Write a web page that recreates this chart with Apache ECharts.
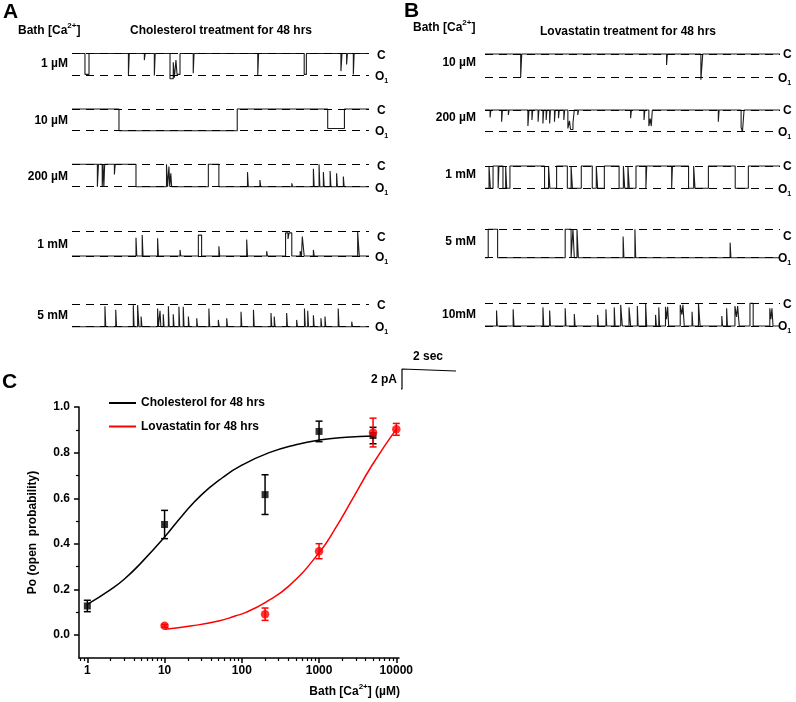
<!DOCTYPE html>
<html><head><meta charset="utf-8">
<script src="https://cdn.jsdelivr.net/npm/echarts@6/dist/echarts.min.js"></script>
<style>html,body{margin:0;padding:0;background:#fff}#c{width:796px;height:702px}</style>
</head><body><div id="c"></div>
<script>
// ================= DATA =================
// Single-channel traces: step points [time (s), level], level 1 = closed (C), 0 = open (O1)
const traceDuration = 11;
const concLabelsA = ['1 µM', '10 µM', '200 µM', '1 mM', '5 mM'];
const concLabelsB = ['10 µM', '200 µM', '1 mM', '5 mM', '10mM'];

const stepsA1 = [[0,1],[0.48,0.05],[0.63,1],[2.09,0],[2.12,1],[2.68,0.7],[2.71,1],[3.05,0],[3.08,1],
  [3.63,-0.15],[3.75,0.6],[3.79,-0.1],[3.85,0.7],[3.89,0.05],[4.0,1],[4.49,0.1],[4.52,1],
  [6.88,0],[6.91,1],[8.6,0.05],[8.68,1],[9.96,0.2],[10.0,1],[10.17,0.5],[10.2,1],[10.42,0.05],[10.45,1]];
const stepsA2 = [[0,1],[1.74,0],[6.12,1],[9.47,0.1],[10.09,1]];
const stepsA3 = [[0,1],[0.94,0],[0.98,1],[1.12,0],[1.15,1],[1.18,0],[1.21,1],[1.57,0.55],[1.6,1],[2.37,0],
  [3.5,1],[3.54,0],[3.59,0.9],[3.62,0],[3.66,0.6],[3.69,0],[5.05,1],[5.44,0],
  [6.5,0.65],[6.53,0],[6.96,0.3],[6.99,0],[8.14,0.15],[8.17,0],[8.94,0.8],[8.97,0],[9.15,1],[9.18,0],
  [9.31,0.65],[9.34,0],[9.56,0.7],[9.59,0],[9.8,0.6],[9.83,0],[10.05,0.45],[10.08,0]];
const stepsA4 = [[0,0],[2.37,0.75],[2.4,0],[2.6,0.86],[2.63,0],[3.17,0.73],[3.2,0],[4.0,0.25],[4.03,0],
  [4.68,0.86],[4.8,0],[5.44,0.4],[5.47,0],[6.47,0.68],[6.5,0],[7.21,0.2],[7.24,0],
  [7.91,0.95],[8.0,0.7],[8.04,0.95],[8.14,0],[8.45,0.2],[8.5,0],[8.53,0.8],[8.6,0],[8.94,0.25],[8.97,0],[10.58,1],[10.64,0]];
const stepsA5 = [[0,0],[1.22,0.9],[1.25,0],[1.62,0.75],[1.65,0],[2.27,0.95],[2.3,0],[2.43,0.95],[2.48,0],
  [2.56,0.45],[2.59,0],[3.17,0.8],[3.2,0],[3.26,0.7],[3.29,0],[3.38,0.55],[3.41,0],[3.57,0.9],[3.6,0],
  [3.75,0.55],[3.78,0],[3.96,0.88],[3.99,0],[4.12,0.88],[4.15,0],[4.31,0.45],[4.34,0],[4.62,0.37],[4.65,0],
  [5.07,0.8],[5.1,0],[5.42,0.3],[5.45,0],[5.73,0.37],[5.76,0],[6.26,0.66],[6.29,0],[6.72,0.75],[6.75,0],
  [7.37,0.6],[7.4,0],[7.49,0.45],[7.52,0],[7.95,0.6],[7.98,0],[8.32,0.3],[8.35,0],[8.61,0.8],[8.64,0],
  [8.73,0.7],[8.76,0],[8.94,0.5],[8.97,0],[9.22,0.37],[9.25,0],[9.37,0.45],[9.4,0],[9.86,0.8],[9.89,0],
  [10.36,0.22],[10.39,0]];

const stepsB1 = [[0,1],[1.33,0],[1.37,1],[6.77,0.53],[6.8,1],[8.05,-0.1],[8.12,1]];
const stepsB2 = [[0,1],[0.19,0.66],[0.22,1],[0.62,0.46],[0.65,1],[0.87,0.77],[0.9,1],[1.6,0.26],[1.64,1],
  [1.75,0.54],[1.78,1],[1.98,0.46],[2.01,1],[2.16,0.38],[2.19,1],[2.28,0.54],[2.31,1],[2.41,0.38],[2.44,1],
  [2.59,0.46],[2.62,1],[2.74,0.62],[2.77,1],[2.94,0.54],[2.97,1],[3.09,0.15],[3.15,0.5],[3.19,0.1],[3.28,0.4],
  [3.33,1],[3.46,0.77],[3.49,1],[5.43,0.62],[5.46,1],[5.93,0.54],[5.96,1],[6.11,0.26],[6.16,0.6],[6.2,0.26],
  [6.24,1],[8.7,0.46],[8.73,1],[9.55,0.2],[9.6,0],[9.66,1]];
const stepsB3 = [[0,0],[0.15,1],[0.2,0],[0.3,1],[0.49,0],[0.52,1],[0.67,0],[0.77,1],[0.81,0],[0.93,1],
  [2.22,0],[2.37,1],[2.42,0],[2.67,1],[3.07,0],[3.21,1],[3.26,0],[3.59,1],[4.0,0],[4.15,1],[4.2,0],[4.45,1],
  [5.0,0],[5.16,1],[5.21,0],[5.33,1],[5.38,0],[5.63,1],[6.0,0],[6.03,1],[6.96,0],[6.99,1],[7.59,0],[7.78,1],
  [7.83,0],[8.33,1],[9.33,0],[9.82,1]];
const stepsB4 = [[0,0],[0.12,1],[0.47,0],[2.99,1],[3.21,0],[3.28,1],[3.33,0],[3.43,1],[3.48,0],
  [5.15,0.75],[5.18,0],[5.59,1],[5.62,0],[9.14,0.53],[9.17,0]];
const stepsB5 = [[0,0],[0.43,0.68],[0.46,0],[1.05,0.74],[1.08,0],[2.16,0.82],[2.19,0],[2.41,0.68],[2.44,0],
  [2.99,0.78],[3.02,0],[3.33,0.53],[3.36,0],[4.2,0.49],[4.23,0],[4.51,0.74],[4.54,0],[4.82,0.82],[4.85,0],
  [5.06,0.93],[5.12,0],[5.37,0.82],[5.43,0],[5.68,0.88],[5.71,0],[5.99,0.97],[6.03,0],[6.36,0.49],[6.39,0],
  [6.48,0.82],[6.51,0],[6.73,0.85],[6.77,0.3],[6.81,0.85],[6.85,0],[7.28,0.93],[7.34,0.5],[7.38,0.93],[7.43,0],
  [7.72,0.63],[7.75,0],[7.96,1],[8.02,0],[8.83,0.44],[8.86,0],[9.01,0.78],[9.04,0],[9.32,0.88],[9.38,0.4],
  [9.42,0.88],[9.48,0],[9.88,1],[10.0,0],[10.62,0.78],[10.66,0.3],[10.7,0.78],[10.74,0]];

// Scale bar values
const scaleBarTime = 2;    // sec
const scaleBarCurrent = 2; // pA

// Panel C: Po vs bath [Ca2+]
const concChol = [1, 10, 200, 1000, 5000];
const poChol   = [0.128, 0.485, 0.616, 0.893, 0.875];
const errChol  = [0.025, 0.062, 0.087, 0.045, 0.036];
const concLova = [10, 200, 1000, 5000, 10000];
const poLova   = [0.041, 0.092, 0.368, 0.888, 0.902];
const errLova  = [0.006, 0.027, 0.033, 0.063, 0.026];
const fitChol = [[1,0.135],[2,0.2],[3,0.245],[5,0.318],[10,0.43],[17,0.525],[30,0.615],[56,0.69],[100,0.745],
  [226,0.8],[500,0.835],[1000,0.855],[2240,0.867],[5000,0.873]];
const fitLova = [[10,0.026],[22.6,0.041],[50,0.062],[82,0.084],[111,0.099],[200,0.143],[405,0.215],
  [1000,0.361],[1640,0.47],[2680,0.594],[4900,0.747],[10000,0.903]];
const xMajorTicks = [1, 10, 100, 1000, 10000];
const xMinorTicks = [0.8,0.9,2,3,4,5,6,7,8,9,20,30,40,50,60,70,80,90,200,300,400,500,600,700,800,900,
  2000,3000,4000,5000,6000,7000,8000,9000];
const yMajorTicks = [0, 0.2, 0.4, 0.6, 0.8, 1.0];
const yMinorTicks = [0.1, 0.3, 0.5, 0.7, 0.9];
const seriesNames = ['Cholesterol for 48 hrs', 'Lovastatin for 48 hrs'];

// ================= LAYOUT =================
const FF = '"Liberation Sans", Arial, sans-serif';
const traceLeftA = 72, traceLeftB = 485, traceWidth = 297;
const rowsA = [
  {cY:53.5, oY:75.5, lab:64, cLab:55.5, oLab:76.5},
  {cY:109, oY:130.7, lab:121, cLab:110.7, oLab:132},
  {cY:164.3, oY:186.7, lab:176.5, cLab:166.3, oLab:188.3},
  {cY:231.7, oY:256, lab:245, cLab:238, oLab:257.5},
  {cY:304, oY:326.7, lab:316, cLab:306, oLab:327.5}
];
const rowsB = [
  {cY:54, oY:77.3, lab:63, cLab:55, oLab:78.5},
  {cY:110, oY:131.7, lab:118, cLab:111, oLab:133},
  {cY:166, oY:188.3, lab:175, cLab:167, oLab:189.5},
  {cY:229.3, oY:257.7, lab:242, cLab:236.7, oLab:258.5},
  {cY:303.3, oY:326, lab:315, cLab:305, oLab:327}
];
const stepsA = [stepsA1, stepsA2, stepsA3, stepsA4, stepsA5];
const stepsB = [stepsB1, stepsB2, stepsB3, stepsB4, stepsB5];

const grids = [], xAxes = [], yAxes = [], series = [], graphics = [];
const boldText = (t, x, y, align, size) => ({type:'text', x, y, silent:true,
  style:{text:t, fill:'#000', font:'bold ' + (size||12) + 'px ' + FF, align:align||'left', verticalAlign:'middle'}});
const richO = {o:{fontSize:12, fontWeight:'bold', fontFamily:FF, lineHeight:16, fill:'#000'},
               s:{fontSize:7, fontWeight:'bold', fontFamily:FF, verticalAlign:'bottom', fill:'#000'}};
const richSup = {n:{fontSize:12, fontWeight:'bold', fontFamily:FF, lineHeight:18, fill:'#000'},
                 p:{fontSize:8, fontWeight:'bold', fontFamily:FF, verticalAlign:'top', fill:'#000'}};

function addTrace(steps, left, width, row, label, labRight, cX, oX) {
  const gi = grids.length;
  grids.push({left:left, top:row.cY, width:width, height:row.oY - row.cY, outerBoundsMode:'none'});
  xAxes.push({type:'value', gridIndex:gi, min:0, max:traceDuration, show:false});
  yAxes.push({type:'value', gridIndex:gi, min:0, max:1, show:false});
  const data = steps.concat([[traceDuration, steps[steps.length - 1][1]]]);
  series.push({type:'line', xAxisIndex:gi, yAxisIndex:gi, data:data, step:'end', symbol:'none', showSymbol:false,
    clip:false, silent:true, lineStyle:{color:'#1c1c1c', width:1.1}, z:3,
    markLine:{silent:true, symbol:['none','none'], label:{show:false}, emphasis:{disabled:true},
      lineStyle:{type:[8,6], color:'#000', width:1}, data:[{yAxis:1},{yAxis:0}]}});
  graphics.push(boldText(label, labRight, row.lab, 'right'));
  graphics.push(boldText('C', cX, row.cLab, 'left'));
  graphics.push({type:'text', x:oX, y:row.oLab, silent:true,
    style:{text:'{o|O}{s|1}', rich:richO, align:'left', verticalAlign:'middle', fill:'#000'}});
}
rowsA.forEach((r, i) => addTrace(stepsA[i], traceLeftA, traceWidth, r, concLabelsA[i], 68, 377, 375));
rowsB.forEach((r, i) => addTrace(stepsB[i], traceLeftB, traceWidth - 2, r, concLabelsB[i], 476, 783, 778));

// Scale bar grid (2 s horizontal, 2 pA vertical), same px/s as traces
{
  const gi = grids.length;
  const pxPerSec = traceWidth / traceDuration;
  grids.push({left:402, top:369, width:pxPerSec * scaleBarTime, height:20, outerBoundsMode:'none'});
  xAxes.push({type:'value', gridIndex:gi, min:0, max:scaleBarTime, show:false});
  yAxes.push({type:'value', gridIndex:gi, min:0, max:scaleBarCurrent, inverse:true, show:false});
  series.push({type:'line', xAxisIndex:gi, yAxisIndex:gi, symbol:'none', clip:false, silent:true,
    data:[[scaleBarTime, 0.2],[scaleBarTime, 0],[0, 0],[0, scaleBarCurrent],[-0.1, scaleBarCurrent]],
    lineStyle:{color:'#000', width:1.2}});
  graphics.push(boldText(scaleBarTime + ' sec', 413, 357, 'left'));
  graphics.push(boldText(scaleBarCurrent + ' pA', 397, 379.5, 'right'));
}

// Panel C grid
const gC = grids.length;
grids.push({left:79, top:407, width:320, height:251, outerBoundsMode:'none'});
const axisLineStyle = {color:'#000', width:1.5};
xAxes.push({type:'log', logBase:10, gridIndex:gC, min:0.78, max:10840, position:'bottom',
  axisLine:{show:true, onZero:false, lineStyle:axisLineStyle},
  axisTick:{show:true, length:5, lineStyle:axisLineStyle, customValues:xMajorTicks},
  minorTick:{show:false}, splitLine:{show:false},
  axisLabel:{show:true, customValues:xMajorTicks, margin:7, color:'#000', fontWeight:'bold', fontSize:12, fontFamily:FF,
    formatter:(v) => String(Math.round(v))}});
xAxes.push({type:'log', logBase:10, gridIndex:gC, min:0.78, max:10840, position:'bottom',
  axisLine:{show:false, onZero:false}, axisLabel:{show:false}, splitLine:{show:false},
  axisTick:{show:true, length:3, lineStyle:{color:'#000', width:1.2}, customValues:xMinorTicks}});
yAxes.push({type:'value', gridIndex:gC, min:-0.1, max:1.0, position:'left',
  axisLine:{show:true, onZero:false, lineStyle:axisLineStyle},
  axisTick:{show:true, length:5, lineStyle:axisLineStyle, customValues:yMajorTicks},
  splitLine:{show:false},
  axisLabel:{show:true, customValues:yMajorTicks, margin:9, color:'#000', fontWeight:'bold', fontSize:12, fontFamily:FF,
    formatter:(v) => v.toFixed(1)},
  name:'Po (open  probability)', nameLocation:'middle', nameGap:40, nameRotate:90,
  nameTextStyle:{color:'#000', fontWeight:'bold', fontSize:12, fontFamily:FF}});
yAxes.push({type:'value', gridIndex:gC, min:-0.1, max:1.0, position:'left',
  axisLine:{show:false, onZero:false}, axisLabel:{show:false}, splitLine:{show:false},
  axisTick:{show:true, length:3, lineStyle:{color:'#000', width:1.2}, customValues:yMinorTicks}});
const xC = xAxes.length - 2, yC = yAxes.length - 2;

function errSeries(conc, po, err, color) {
  return {type:'custom', xAxisIndex:xC, yAxisIndex:yC, silent:true, z:4,
    data: conc.map((c, i) => [c, po[i], err[i]]),
    encode:{x:0, y:1},
    renderItem:(params, api) => {
      const x = api.value(0), y = api.value(1), e = api.value(2);
      const top = api.coord([x, y + e]), bot = api.coord([x, y - e]);
      const w = 3.5, st = {stroke:color, lineWidth:1.5};
      return {type:'group', children:[
        {type:'line', shape:{x1:top[0], y1:top[1], x2:bot[0], y2:bot[1]}, style:st},
        {type:'line', shape:{x1:top[0]-w, y1:top[1], x2:top[0]+w, y2:top[1]}, style:st},
        {type:'line', shape:{x1:bot[0]-w, y1:bot[1], x2:bot[0]+w, y2:bot[1]}, style:st}
      ]};
    }};
}
series.push({name:seriesNames[0], type:'line', xAxisIndex:xC, yAxisIndex:yC, data:fitChol, smooth:0.5,
  symbol:'none', showSymbol:false, lineStyle:{color:'#000', width:1.5}, itemStyle:{color:'#000'}, z:2});
series.push({name:seriesNames[1], type:'line', xAxisIndex:xC, yAxisIndex:yC, data:fitLova, smooth:0.5,
  symbol:'none', showSymbol:false, lineStyle:{color:'#ff0000', width:1.5}, itemStyle:{color:'#ff0000'}, z:2});
series.push(errSeries(concChol, poChol, errChol, '#000'));
series.push({type:'scatter', xAxisIndex:xC, yAxisIndex:yC, symbol:'rect', symbolSize:7, silent:true, z:5,
  itemStyle:{color:'#000'}, data:concChol.map((c, i) => [c, poChol[i]])});
series.push(errSeries(concLova, poLova, errLova, '#ff0000'));
series.push({type:'scatter', xAxisIndex:xC, yAxisIndex:yC, symbol:'circle', symbolSize:8.5, silent:true, z:6,
  itemStyle:{color:'#ff0000'}, data:concLova.map((c, i) => [c, poLova[i]])});

// Panel letters, titles, axis title
graphics.push(boldText('A', 3, 12, 'left', 21));
graphics.push(boldText('B', 404, 11, 'left', 21));
graphics.push(boldText('C', 2, 382, 'left', 21));
graphics.push({type:'text', x:18, y:31, silent:true, style:{text:'{n|Bath [Ca}{p|2+}{n|]}', rich:richSup, align:'left', verticalAlign:'middle'}});
graphics.push({type:'text', x:413, y:28, silent:true, style:{text:'{n|Bath [Ca}{p|2+}{n|]}', rich:richSup, align:'left', verticalAlign:'middle'}});
graphics.push(boldText('Cholesterol treatment for 48 hrs', 130, 31, 'left'));
graphics.push(boldText('Lovastatin treatment for 48 hrs', 540, 32, 'left'));
graphics.push({type:'text', x:400, y:692, silent:true, style:{text:'{n|Bath [Ca}{p|2+}{n|] (µM)}', rich:richSup, align:'right', verticalAlign:'middle'}});

const chart = echarts.init(document.getElementById('c'), null, {renderer:'canvas'});
chart.setOption({
  animation:false,
  backgroundColor:'#fff',
  textStyle:{fontFamily:FF},
  legend:{show:true, orient:'vertical', left:104, top:391, icon:'rect', itemWidth:27, itemHeight:2, itemGap:9.5,
    data:seriesNames, selectedMode:false,
    textStyle:{color:'#000', fontWeight:'bold', fontSize:12, fontFamily:FF, lineHeight:14}},
  grid:grids, xAxis:xAxes, yAxis:yAxes, series:series, graphic:graphics
});
</script></body></html>
